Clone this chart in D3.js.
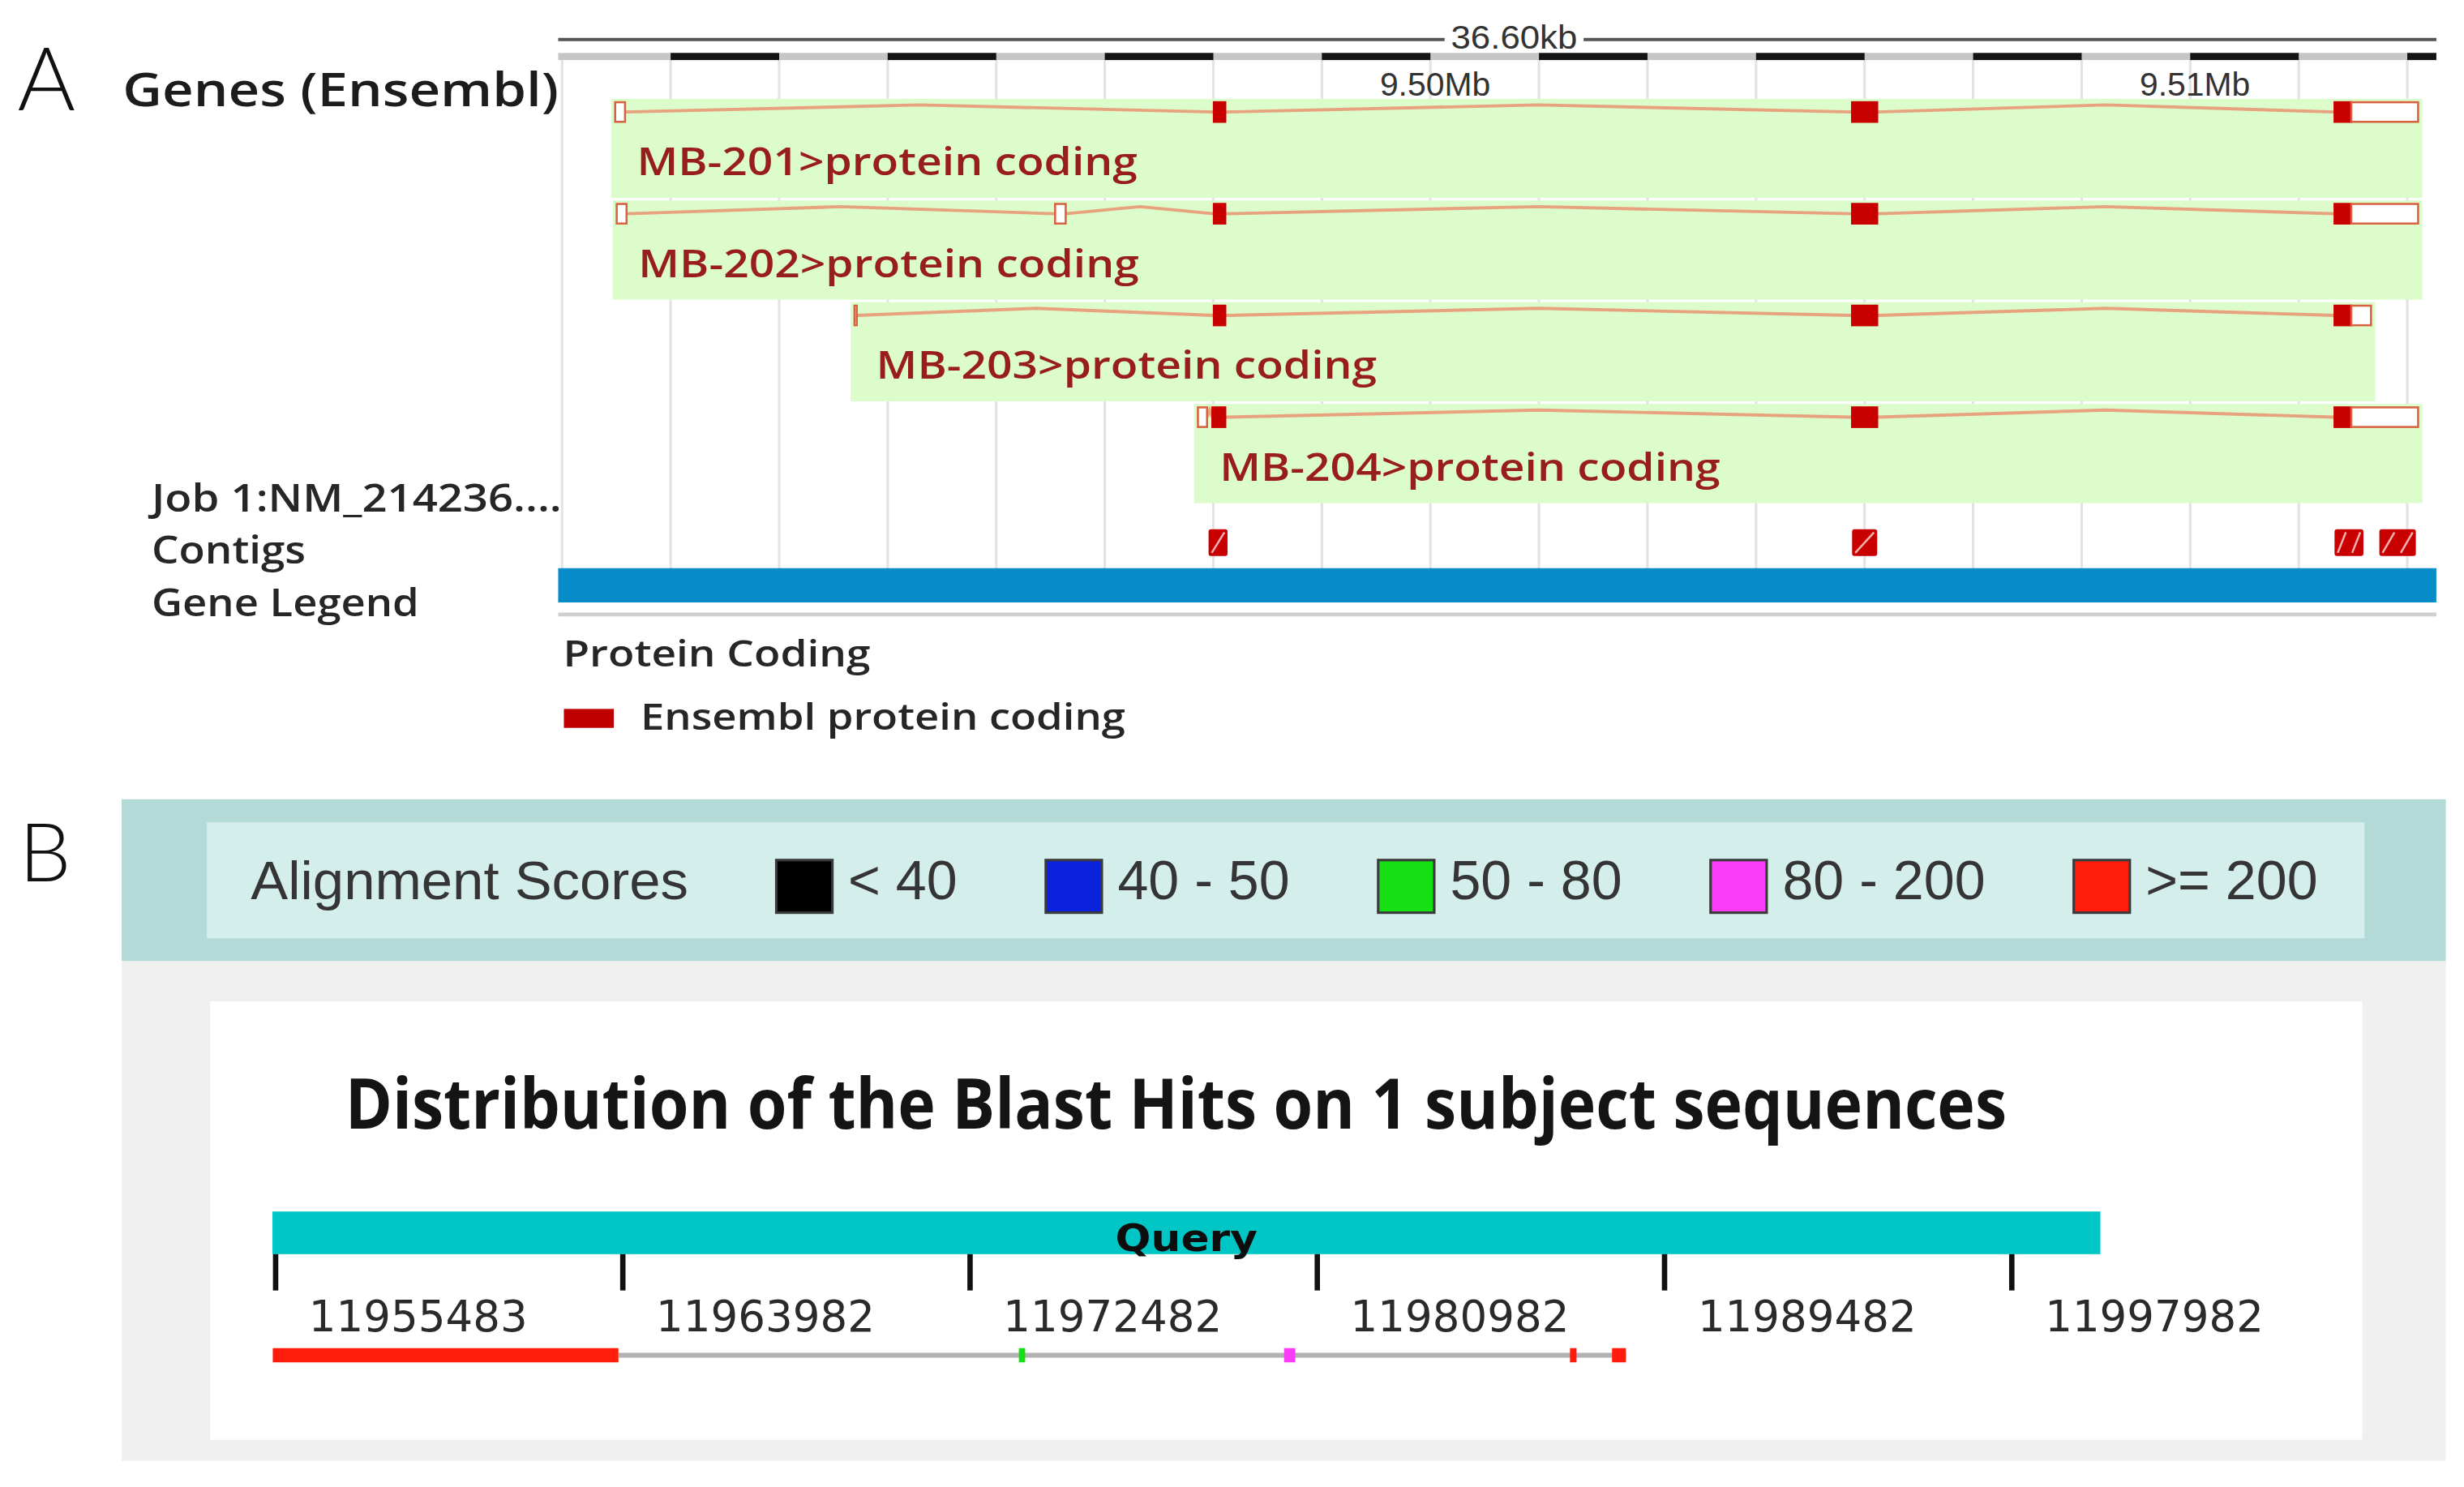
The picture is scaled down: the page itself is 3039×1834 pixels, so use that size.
<!DOCTYPE html>
<html>
<head>
<meta charset="utf-8">
<script src="https://cdn.jsdelivr.net/npm/d3@7"></script>
<style>
  html, body { margin: 0; padding: 0; background: #ffffff; }
  svg { display: block; }
</style>
</head>
<body>
<svg id="chart"></svg>
<script>
// ================= DATA =================
// ---- Panel A : genome browser view (positions in kb on the chromosome) ----
const viewStartKb = 9488.52;
const viewEndKb = 9513.24;
const viewSpanLabel = "36.60kb";
const rulerStepKb = 1.4286;            // spacing of the ruler / grid segments
const rulerLabels = ["9.50Mb", "9.51Mb"];
const rulerLabelPosKb = [9500, 9510];

const transcriptNames = ["MB-201", "MB-202", "MB-203", "MB-204"];
const transcriptBiotypes = ["protein coding", "protein coding", "protein coding", "protein coding"];
const transcriptStartKb = [9489.27, 9489.29, 9492.42, 9496.94];
const transcriptEndKb = [9513.00, 9513.00, 9512.38, 9513.00];
// exons: [start kb, end kb, kind]  (kind: "utr" = open box, "cds" = filled)
const exonsMB201 = [[9489.27, 9489.40, "utr"], [9497.15, 9497.30, "cds"], [9505.55, 9505.88, "cds"], [9511.90, 9512.12, "cds"], [9512.12, 9513.00, "utr"]];
const exonsMB202 = [[9489.29, 9489.42, "utr"], [9495.06, 9495.20, "utr"], [9497.15, 9497.30, "cds"], [9505.55, 9505.88, "cds"], [9511.90, 9512.12, "cds"], [9512.12, 9513.00, "utr"]];
const exonsMB203 = [[9492.42, 9492.45, "utr"], [9497.15, 9497.30, "cds"], [9505.55, 9505.88, "cds"], [9511.90, 9512.12, "cds"], [9512.12, 9512.38, "utr"]];
const exonsMB204 = [[9496.94, 9497.06, "utr"], [9497.13, 9497.30, "cds"], [9505.55, 9505.88, "cds"], [9511.90, 9512.12, "cds"], [9512.12, 9513.00, "utr"]];
const contigStartKb = [9497.08, 9505.55, 9511.90, 9512.49];
const contigEndKb = [9497.33, 9505.88, 9512.28, 9512.97];
const trackLabels = ["Job 1:NM_214236....", "Contigs", "Gene Legend"];
const legendTitle = "Protein Coding";
const legendItem = "Ensembl protein coding";

// ---- Panel B : BLAST hit distribution (query coordinates, bp) ----
const scoreBins = ["< 40", "40 - 50", "50 - 80", "80 - 200", ">= 200"];
const scoreColors = ["#000000", "#0a22dc", "#14e014", "#f83cf8", "#ff1c0c"];
const queryTicks = [11955483, 11963982, 11972482, 11980982, 11989482, 11997982];
const queryStart = 11955483;
const queryEnd = 12000150;
const hitStart = [11955483, 11973676, 11980168, 11987168, 11988196];
const hitEnd = [11963874, 11973831, 11980443, 11987327, 11988536];
const hitBin = [">= 200", "50 - 80", "80 - 200", ">= 200", ">= 200"];
const blastTitle = "Distribution of the Blast Hits on 1 subject sequences";

// ================= DRAWING =================
const W = 1560, H = 941.4;
const svg = d3.select("#chart")
  .attr("width", 3039).attr("height", 1834)
  .attr("viewBox", `0 0 ${W} ${H}`);

const fontA = "'Open Sans', 'Noto Sans', sans-serif";

// ---------- Panel A ----------
const A = svg.append("g");
const x = d3.scaleLinear().domain([viewStartKb, viewEndKb]).range([353.4, 1542.5]);

// panel letter
A.append("text").attr("x", 11).attr("y", 69.8)
  .attr("font-family", "Lato, 'Noto Sans', sans-serif").attr("font-weight", 300)
  .attr("font-size", 56).attr("fill", "#111").text("A");

A.append("text").attr("x", 77.7).attr("y", 67)
  .attr("font-family", fontA).attr("font-weight", 600).attr("font-size", 30)
  .attr("fill", "#1c1c1c").attr("textLength", 276).attr("lengthAdjust", "spacingAndGlyphs")
  .text("Genes (Ensembl)");

// top span line with label
A.append("line").attr("x1", x(viewStartKb)).attr("x2", x(viewEndKb))
  .attr("y1", 25).attr("y2", 25).attr("stroke", "#555").attr("stroke-width", 2);
const spanMid = 958.6;
A.append("rect").attr("x", spanMid - 44).attr("y", 12).attr("width", 88).attr("height", 22).attr("fill", "#fff");
A.append("text").attr("x", spanMid).attr("y", 31).attr("text-anchor", "middle")
  .attr("font-family", "'Liberation Sans', Arial, sans-serif").attr("font-size", 21)
  .attr("fill", "#333").attr("textLength", 80).attr("lengthAdjust", "spacingAndGlyphs")
  .text(viewSpanLabel);

// grid positions (ruler segment boundaries)
const gridKb = d3.range(-8, 10).map(k => 9500 + k * rulerStepKb).filter(v => v >= viewStartKb && v <= viewEndKb);

// vertical grid lines
A.append("g").selectAll("line").data(gridKb).join("line")
  .attr("x1", d => x(d)).attr("x2", d => x(d))
  .attr("y1", 38).attr("y2", 360)
  .attr("stroke", "#e3e3e3").attr("stroke-width", 1.6);

// ruler bar
A.append("rect").attr("x", x(viewStartKb)).attr("y", 33.5)
  .attr("width", x(viewEndKb) - x(viewStartKb)).attr("height", 4.5).attr("fill", "#c6c6c6");
const blackSegs = gridKb.filter((d, i) => i % 2 === 1);
A.append("g").selectAll("rect").data(blackSegs).join("rect")
  .attr("x", d => x(d)).attr("y", 33.5)
  .attr("width", d => x(Math.min(d + rulerStepKb, viewEndKb)) - x(d)).attr("height", 4.5)
  .attr("fill", "#141414");

// ruler labels
A.append("g").selectAll("text").data(rulerLabels).join("text")
  .attr("x", (d, i) => x(rulerLabelPosKb[i]) + 3).attr("y", 60.7)
  .attr("text-anchor", "middle")
  .attr("font-family", "'Liberation Sans', Arial, sans-serif").attr("font-size", 20.5)
  .attr("fill", "#333").attr("textLength", 70).attr("lengthAdjust", "spacingAndGlyphs")
  .text(d => d);

// transcripts
const exonSets = [exonsMB201, exonsMB202, exonsMB203, exonsMB204];
const rowTop = i => 62.5 + 64.4 * i;
const tr = A.append("g");
transcriptNames.forEach((name, i) => {
  const top = rowTop(i);
  const ly = top + 8.4;
  const g = tr.append("g");
  const bx0 = x(transcriptStartKb[i]) - 2.5;
  const bx1 = x(transcriptEndKb[i]) + 2.7;
  g.append("rect").attr("x", bx0).attr("y", top).attr("width", bx1 - bx0).attr("height", 62.8)
    .attr("fill", "#ddfccb");
  const ex = exonSets[i];
  // introns (caret shaped)
  const introns = [];
  for (let k = 0; k < ex.length - 1; k++) {
    if (ex[k + 1][0] > ex[k][1] + 0.01) introns.push([ex[k][1], ex[k + 1][0]]);
  }
  g.selectAll("path.intron").data(introns).join("path")
    .attr("class", "intron")
    .attr("d", d => {
      const a = x(d[0]), b = x(d[1]), m = (a + b) / 2;
      return `M${a},${ly} L${m},${ly - 4.5} L${b},${ly}`;
    })
    .attr("fill", "none").attr("stroke", "#e7a27e").attr("stroke-width", 2);
  // exons
  g.selectAll("rect.exon").data(ex).join("rect")
    .attr("class", "exon")
    .attr("x", d => x(d[0])).attr("y", ly - 6.2)
    .attr("width", d => Math.max(1.2, x(d[1]) - x(d[0]))).attr("height", 12.4)
    .attr("fill", d => d[2] === "cds" ? "#c80000" : "#ffffff")
    .attr("stroke", d => d[2] === "cds" ? "#c80000" : "#d8613f")
    .attr("stroke-width", 1.3);
  g.append("text").attr("x", bx0 + 16.2).attr("y", top + 48.5)
    .attr("font-family", fontA).attr("font-weight", 600).attr("font-size", 24)
    .attr("fill", "#981d1d").attr("textLength", 317).attr("lengthAdjust", "spacingAndGlyphs")
    .text(`${name}>${transcriptBiotypes[i]}`);
});

// contigs (hatched)
const cg = A.append("g");
contigStartKb.forEach((s, i) => {
  const x0 = x(s), x1 = x(contigEndKb[i]), y0 = 335, y1 = 352;
  cg.append("rect").attr("x", x0).attr("y", y0).attr("width", x1 - x0).attr("height", y1 - y0)
    .attr("rx", 1.5).attr("fill", "#c80000");
  const n = Math.max(1, Math.round((x1 - x0) / 11));
  const w = (x1 - x0) / n;
  for (let k = 0; k < n; k++) {
    cg.append("line")
      .attr("x1", x0 + k * w + 2).attr("y1", y1 - 2)
      .attr("x2", x0 + (k + 1) * w - 2).attr("y2", y0 + 2)
      .attr("stroke", "#f4b0b0").attr("stroke-width", 1.3);
  }
});

// blue gene legend bar + underline
A.append("rect").attr("x", x(viewStartKb)).attr("y", 359.7)
  .attr("width", x(viewEndKb) - x(viewStartKb)).attr("height", 21.7).attr("fill", "#078bc9");
A.append("line").attr("x1", x(viewStartKb)).attr("x2", x(viewEndKb))
  .attr("y1", 389).attr("y2", 389).attr("stroke", "#cfcfcf").attr("stroke-width", 2.5);

// track labels
const trackLabelY = [324, 357, 390];
const trackLabelLen = [259.6, 97.6, 169.3];
A.append("g").selectAll("text").data(trackLabels).join("text")
  .attr("x", 96).attr("y", (d, i) => trackLabelY[i])
  .attr("font-family", fontA).attr("font-weight", 600).attr("font-size", 24.5)
  .attr("fill", "#262626")
  .attr("textLength", (d, i) => trackLabelLen[i]).attr("lengthAdjust", "spacingAndGlyphs")
  .text(d => d);

// gene legend
A.append("text").attr("x", 356.5).attr("y", 422)
  .attr("font-family", fontA).attr("font-weight", 600).attr("font-size", 23.5)
  .attr("fill", "#262626").attr("textLength", 194.5).attr("lengthAdjust", "spacingAndGlyphs")
  .text(legendTitle);
A.append("rect").attr("x", 357).attr("y", 448.8).attr("width", 31.6).attr("height", 12)
  .attr("fill", "#c00000");
A.append("text").attr("x", 405.5).attr("y", 462)
  .attr("font-family", fontA).attr("font-weight", 600).attr("font-size", 23.5)
  .attr("fill", "#262626").attr("textLength", 307).attr("lengthAdjust", "spacingAndGlyphs")
  .text(legendItem);

// ---------- Panel B ----------
const B = svg.append("g");
const color = d3.scaleOrdinal().domain(scoreBins).range(scoreColors);
const qx = d3.scaleLinear().domain([queryTicks[0], queryTicks[queryTicks.length - 1]]).range([174.5, 1273.7]);

B.append("text").attr("x", 12).attr("y", 558)
  .attr("font-family", "Lato, 'Noto Sans', sans-serif").attr("font-weight", 300)
  .attr("font-size", 52).attr("fill", "#111").text("B");

// header band
B.append("rect").attr("x", 77).attr("y", 506).attr("width", 1471.5).attr("height", 102.5).attr("fill", "#b3dad7");
B.append("rect").attr("x", 131).attr("y", 520.6).attr("width", 1366).attr("height", 73.4).attr("fill", "#d4eeeb");
// body area
B.append("rect").attr("x", 77).attr("y", 608.5).attr("width", 1471.5).attr("height", 316.3).attr("fill", "#f0f0f0");
B.append("rect").attr("x", 133).attr("y", 634).attr("width", 1362.5).attr("height", 277.5).attr("fill", "#ffffff");

// alignment score legend
B.append("text").attr("x", 158.8).attr("y", 569.5)
  .attr("font-family", "'Liberation Sans', Arial, sans-serif").attr("font-size", 34)
  .attr("fill", "#353535").attr("textLength", 277).attr("lengthAdjust", "spacingAndGlyphs")
  .text("Alignment Scores");
let lx = 491.5;
const lg = B.append("g");
scoreBins.forEach(bin => {
  lg.append("rect").attr("x", lx).attr("y", 544.5).attr("width", 35.5).attr("height", 33.3)
    .attr("fill", color(bin)).attr("stroke", "#3a3a3a").attr("stroke-width", 1.6);
  const t = lg.append("text").attr("x", lx + 45.5).attr("y", 569.5)
    .attr("font-family", "'Liberation Sans', Arial, sans-serif").attr("font-size", 35)
    .attr("fill", "#353535").text(bin);
  lx = lx + 45.5 + t.node().getComputedTextLength() + 56;
});

// title
B.append("text").attr("x", 218.5).attr("y", 714.5)
  .attr("font-family", "'Open Sans', 'Noto Sans', sans-serif").attr("font-weight", 700)
  .attr("font-size", 44).attr("fill", "#141414")
  .attr("textLength", 1052).attr("lengthAdjust", "spacingAndGlyphs")
  .text(blastTitle);

// query bar
B.append("rect").attr("x", qx(queryStart) - 2).attr("y", 767)
  .attr("width", qx(queryEnd) - qx(queryStart) + 2).attr("height", 27).attr("fill", "#00c6c6");
B.append("text").attr("x", (qx(queryStart) - 2 + qx(queryEnd)) / 2).attr("y", 791.8)
  .attr("text-anchor", "middle")
  .attr("font-family", "'DejaVu Sans', Verdana, sans-serif").attr("font-weight", 700)
  .attr("font-size", 24).attr("fill", "#0d0d0d")
  .attr("textLength", 90).attr("lengthAdjust", "spacingAndGlyphs")
  .text("Query");

// ticks and labels
B.append("g").selectAll("line").data(queryTicks).join("line")
  .attr("x1", d => qx(d)).attr("x2", d => qx(d)).attr("y1", 794).attr("y2", 817)
  .attr("stroke", "#111").attr("stroke-width", 3.4);
B.append("g").selectAll("text").data(queryTicks).join("text")
  .attr("x", d => qx(d) + 21).attr("y", 843)
  .attr("font-family", "'DejaVu Sans', Verdana, sans-serif").attr("font-size", 27)
  .attr("fill", "#2a2a2a").attr("textLength", 138.5).attr("lengthAdjust", "spacingAndGlyphs")
  .text(d => d);

// hits
B.append("line").attr("x1", qx(hitEnd[0])).attr("x2", qx(hitEnd[hitEnd.length - 1]))
  .attr("y1", 858).attr("y2", 858).attr("stroke", "#b2b2b2").attr("stroke-width", 3);
B.append("g").selectAll("rect").data(hitStart).join("rect")
  .attr("x", (d, i) => qx(d) - (i === 0 ? 1.8 : 0)).attr("y", 853.5)
  .attr("width", (d, i) => Math.max(3, qx(hitEnd[i]) - qx(d) + (i === 0 ? 1.8 : 0)))
  .attr("height", 9)
  .attr("fill", (d, i) => color(hitBin[i]));
</script>
</body>
</html>
